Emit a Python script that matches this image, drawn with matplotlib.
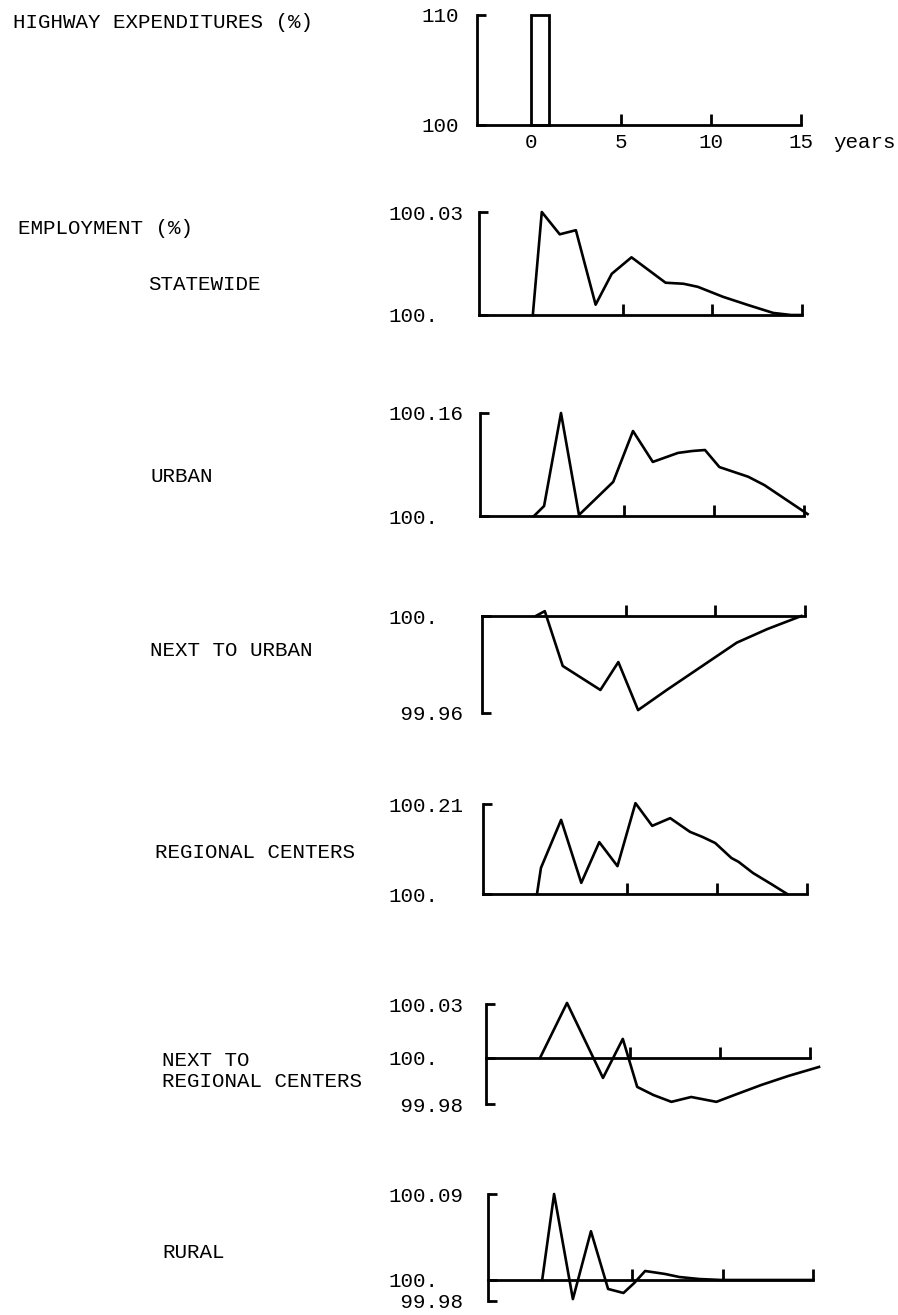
import matplotlib
matplotlib.use("Agg")
import matplotlib.pyplot as plt

# highway expenditures (% of base), one year of extra spending
spend_year = [0]
spend_width = [1]
spend_level = [110]

# employment responses (% of base)
statewide_years = [0, 0.5, 1.5, 2.4, 3.5, 4.4, 5.5, 7.4, 8.4, 9.2, 10.6, 12.0, 13.4, 14.4, 15]
statewide = [100.0, 100.030, 100.0235, 100.0247, 100.003, 100.012, 100.0168, 100.0094,
             100.0091, 100.0082, 100.0053, 100.0029, 100.0006, 100.0, 100.0]

urban_years = [0, 0.56, 1.5, 2.5, 4.4, 5.5, 6.6, 8.0, 8.8, 9.5, 10.3, 11.9, 12.8, 15.2]
urban = [100.0, 100.0155, 100.16, 100.0016, 100.053, 100.132, 100.084, 100.098,
         100.101, 100.1025, 100.076, 100.061, 100.048, 100.003]

next_urban_years = [0, 0.5, 1.5, 3.6, 4.6, 5.7, 7.3, 9.2, 11.2, 12.9, 14.8]
next_urban = [100.0, 100.002, 99.9794, 99.9695, 99.981, 99.9612, 99.9695, 99.979,
              99.989, 99.9946, 100.0]

regional_years = [0, 0.22, 1.34, 2.46, 3.46, 4.47, 5.47, 6.4, 7.4, 8.5, 9.2, 9.9,
                  10.8, 11.2, 12.0, 13.1, 13.9]
regional = [100.0, 100.061, 100.173, 100.026, 100.121, 100.065, 100.212, 100.159,
            100.177, 100.145, 100.133, 100.119, 100.084, 100.075, 100.049, 100.021, 100.0]

next_regional_years = [0, 1.5, 3.5, 4.6, 5.4, 6.3, 7.3, 8.4, 9.8, 10.8, 12.3, 13.8, 15.5]
next_regional = [100.0, 100.0306, 99.9889, 100.0106, 99.9839, 99.9794, 99.9756,
                 99.9783, 99.9756, 99.9794, 99.985, 99.990, 99.995]

rural_years = [0, 0.66, 1.7, 2.7, 3.65, 4.5, 5.1, 5.7, 6.8, 7.6, 8.7, 9.9, 15]
rural = [100.0, 100.09, 99.980, 100.051, 99.9906, 99.9864, 99.9969, 100.0094,
         100.0063, 100.0031, 100.001, 100.0, 100.0]

year_ticks = [0, 5, 10, 15]
year_labels = ["0", "5", "10", "15"]

W, H = 898, 1315


def frame(fig, axis_x, px_per_year, y_top, y_bot):
    # axes placed in figure pixels, x range -3 .. 15.8 years
    left = axis_x / W
    width = 18.8 * px_per_year / W
    bottom = 1 - y_bot / H
    height = (y_bot - y_top) / H
    ax = fig.add_axes([left, bottom, width, height])
    ax.set_xlim(-3, 15.8)
    for side in ["top", "right"]:
        ax.spines[side].set_visible(False)
    ax.spines["bottom"].set_position(("data", 100))
    ax.spines["bottom"].set_bounds(-3, 15)
    ax.spines["bottom"].set_linewidth(2.0)
    ax.spines["left"].set_linewidth(2.0)
    ax.set_xticks([5, 10, 15])
    ax.tick_params(axis="x", direction="in", length=8, width=2.0, labelbottom=False)
    ax.tick_params(axis="y", direction="in", length=6.5, width=2.0, labelsize=15,
                   pad=(axis_x - 388) * 0.72)
    for lab in ax.get_yticklabels():
        lab.set_horizontalalignment("left")
    return ax


def set_yscale(ax, lo, hi, ticks, labels):
    ax.set_ylim(lo, hi)
    ax.set_yticks(ticks, labels)
    for lab in ax.get_yticklabels():
        lab.set_horizontalalignment("left")


def main():
    plt.rcParams["font.family"] = ["Liberation Mono", "DejaVu Sans Mono"]
    fig = plt.figure(figsize=(W / 100, H / 100), dpi=100)

    # highway expenditures
    ax = frame(fig, 477, 18.0, 15, 125)
    ax.bar(spend_year, [v - 100 for v in spend_level], width=spend_width, bottom=100,
           align="edge", fill=False, edgecolor="black", linewidth=2.0, clip_on=False)
    ax.set_ylim(100, 110)
    ax.set_yticks([100, 110], ["100", "110"])
    ax.tick_params(axis="y", pad=(477 - 421) * 0.72)
    for lab in ax.get_yticklabels():
        lab.set_horizontalalignment("left")
    ax.set_xticks(year_ticks, year_labels)
    ax.tick_params(axis="x", labelbottom=True, labelsize=15, pad=6)
    ax.xaxis.get_major_ticks()[0].tick1line.set_visible(False)
    fig.text(833 / W, 1 - 143 / H, "years", fontsize=15, va="center", ha="left")

    lw = 1.9
    ax = frame(fig, 479, 17.94, 212, 315)
    ax.plot(statewide_years, statewide, color="black", lw=lw, clip_on=False)
    set_yscale(ax, 100, 100.03, [100, 100.03], ["100.", "100.03"])

    ax = frame(fig, 480, 18.0, 413, 516)
    ax.plot(urban_years, urban, color="black", lw=lw, clip_on=False)
    set_yscale(ax, 100, 100.16, [100, 100.16], ["100.", "100.16"])

    ax = frame(fig, 482, 17.94, 616, 713)
    ax.plot(next_urban_years, next_urban, color="black", lw=lw, clip_on=False)
    set_yscale(ax, 99.96, 100, [99.96, 100], [" 99.96", "100."])

    ax = frame(fig, 483, 18.0, 804, 894)
    ax.plot(regional_years, regional, color="black", lw=lw, clip_on=False)
    set_yscale(ax, 100, 100.21, [100, 100.21], ["100.", "100.21"])

    ax = frame(fig, 486, 18.0, 1004, 1104)
    ax.plot(next_regional_years, next_regional, color="black", lw=lw, clip_on=False)
    set_yscale(ax, 99.9744, 100.03, [99.9744, 100, 100.03], [" 99.98", "100.", "100.03"])

    ax = frame(fig, 488, 18.06, 1194, 1301)
    ax.plot(rural_years, rural, color="black", lw=lw, clip_on=False)
    set_yscale(ax, 99.978, 100.09, [99.978, 100, 100.09], [" 99.98", "100.", "100.09"])

    # row labels on the left
    labels = [
        ("HIGHWAY EXPENDITURES (%)", 13, 23),
        ("EMPLOYMENT (%)", 18, 228),
        ("STATEWIDE", 148, 284),
        ("URBAN", 150, 476),
        ("NEXT TO URBAN", 150, 650),
        ("REGIONAL CENTERS", 155, 852),
        ("NEXT TO\nREGIONAL CENTERS", 162, 1071),
        ("RURAL", 162, 1253),
    ]
    for text, x, y in labels:
        fig.text(x / W, 1 - y / H, text, fontsize=15, ha="left", va="center",
                 linespacing=1.1)

    fig.savefig("out.png", dpi=100)


if __name__ == "__main__":
    main()
